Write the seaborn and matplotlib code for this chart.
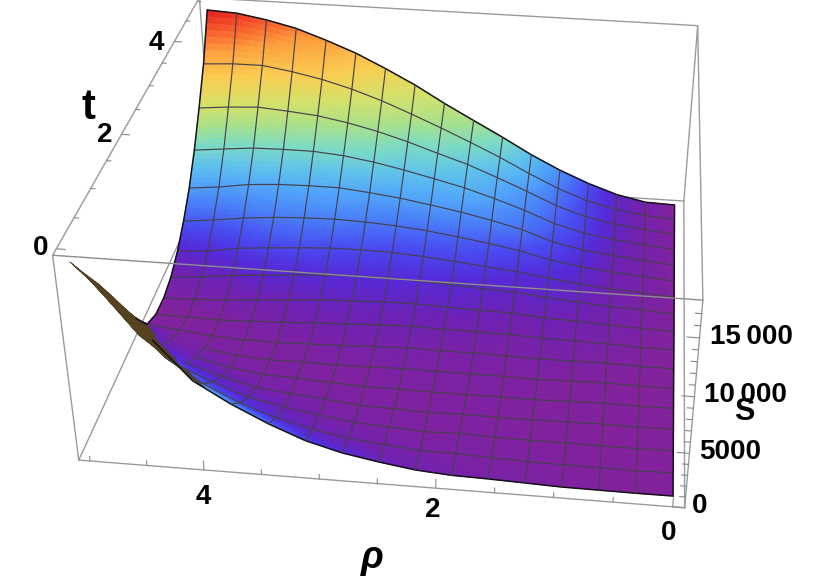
import numpy as np
import matplotlib
matplotlib.use("Agg")
import matplotlib.pyplot as plt
from mpl_toolkits.mplot3d import Axes3D  # noqa: F401
import seaborn as sns

# ---- data: rows t2 = 5 ... 0, columns rho = 5 ... 0 ----
rho_nodes = [5, 4.6875, 4.375, 4.0625, 3.75, 3.4375, 3.125, 2.8125, 2.5,
             2.1875, 1.875, 1.5625, 1.25, 0.9375, 0.625, 0.3125, 0]
t2_nodes = [5, 4.6875, 4.375, 4.0625, 3.75, 3.4375, 3.125, 2.8125, 2.5,
            2.1875, 1.875, 1.5625, 1.25, 0.9375, 0.625, 0.3125, 0]
S_values = [
    [17300,17150,16650,15970,14960,13830,12440,10940,9230,7640,6070,4410,2960,1730,720,100,0],
    [13160,13340,13350,12900,12300,11500,10500,9320,8080,6770,5400,3900,2520,1400,680,220,0],
    [10030,10310,10480,10260,9980,9450,8760,7890,6900,5950,4780,3550,2240,1280,680,320,20],
    [7150,7450,7740,7800,7790,7540,7080,6470,5770,5040,4130,3120,1940,1140,660,340,40],
    [4740,5050,5500,5710,5780,5770,5470,5110,4620,4090,3440,2700,1650,1020,650,340,70],
    [2900,3210,3620,3900,4060,4130,4040,3860,3570,3150,2700,2150,1430,930,610,360,110],
    [1430,1640,2140,2400,2610,2800,2830,2780,2590,2300,1980,1680,1240,860,570,400,160],
    [430,650,1040,1270,1500,1730,1830,1880,1800,1620,1420,1310,1010,750,530,420,220],
    [0,80,270,480,710,930,1060,1180,1210,1100,1020,960,720,610,460,340,260],
    [100,70,0,110,230,390,510,670,750,680,660,630,480,450,400,280,260],
    [900,570,200,60,40,110,180,340,440,380,400,350,270,310,350,250,260],
    [3300,1410,820,340,170,170,130,180,260,230,230,210,150,230,320,240,270],
    [6100,2780,1840,1080,620,510,330,170,180,130,130,140,130,220,300,240,280],
    [9000,4820,3170,2130,1320,970,680,320,240,120,200,160,170,220,270,230,290],
    [11800,7410,4920,3520,2340,1650,1150,680,500,300,400,280,240,240,240,230,300],
    [14400,10580,7440,5300,3780,2650,1820,1200,880,560,560,410,320,270,260,240,300],
    [17080,14260,10870,7500,5650,4100,2800,1920,1340,860,620,550,440,330,310,290,300],
]
# colour level of each node on the rainbow scale
colour_levels = [
    [1.0,.97,.92,.87,.83,.77,.72,.67,.62,.57,.5,.4,.3,.2,.11,.05,.01],
    [.78,.78,.76,.74,.72,.68,.64,.6,.55,.5,.44,.37,.27,.19,.11,.05,.01],
    [.64,.64,.64,.62,.6,.58,.55,.5,.47,.43,.38,.32,.25,.18,.11,.05,.01],
    [.47,.47,.48,.48,.48,.47,.45,.42,.4,.38,.34,.29,.23,.17,.1,.05,.01],
    [.33,.33,.35,.36,.36,.36,.35,.34,.33,.31,.29,.26,.2,.15,.09,.05,.01],
    [.22,.23,.25,.27,.28,.28,.27,.26,.25,.24,.22,.2,.17,.13,.08,.04,.01],
    [.12,.14,.17,.19,.2,.2,.2,.19,.19,.18,.17,.15,.14,.11,.07,.04,.01],
    [.06,.08,.1,.12,.13,.14,.14,.14,.14,.13,.12,.11,.11,.09,.06,.03,.01],
    [.02,.03,.05,.07,.08,.1,.1,.1,.1,.1,.09,.08,.08,.07,.05,.03,0],
    [0,0,.02,.03,.05,.06,.07,.07,.07,.06,.06,.05,.06,.05,.04,.02,0],
    [.03,.02,.02,.02,.02,.03,.04,.05,.05,.04,.04,.03,.04,.03,.02,.01,0],
    [.12,.05,.03,.02,.02,.02,.02,.02,.03,.03,.03,.02,.02,.01,.01,0,0],
    [.18,.1,.08,.05,.03,.02,.02,.02,.02,.02,.02,.02,.01,.01,.01,0,0],
    [.25,.16,.12,.09,.06,.04,.03,.02,.02,.02,.02,.01,.01,.01,0,0,0],
    [.3,.22,.2,.15,.11,.08,.05,.04,.03,.02,.02,.02,.01,.01,0,0,0],
    [.35,.3,.27,.23,.18,.12,.09,.07,.05,.04,.03,.02,.02,.01,.01,0,0],
    [.4,.42,.42,.42,.33,.25,.18,.14,.1,.07,.05,.04,.03,.02,.01,0,0],
]
rho_ticks = [0, .5, 1, 1.5, 2, 2.5, 3, 3.5, 4, 4.5, 5]
t2_ticks = [0, .5, 1, 1.5, 2, 2.5, 3, 3.5, 4, 4.5, 5]
S_ticks = list(range(0, 18000, 1000))
tick_labels = ["4", "2", "0", "4", "2", "0", "15\u2009000", "10\u2009000", "5000", "0"]
axis_labels = ["t", "\u03c1", "S"]

# ---- layout ----
W, H = 830, 580
rho_lim = (-0.1, 5.1)
t2_lim = (-0.1, 5.1)
S_lim = (0, 18100)
box_world = [(5.1, -.1, 18100), (-.1, -.1, 18100), (5.1, 5.1, 18100), (-.1, 5.1, 18100),
             (5.1, -.1, 0), (-.1, -.1, 0), (-.1, 5.1, 0), (5.1, 5.1, 0)]
box_pixels = [(54, 255), (703, 298), (197, 0), (699, 25),
              (78, 462), (684, 508), (683, 203), (214, 167)]
tick_label_px = [(156, 43), (105, 135), (41, 248), (203, 497), (433, 510), (669, 533),
                 (751, 337), (745, 395), (730, 452), (700, 506)]
axis_label_px = [(88, 108), (372, 558), (744, 412)]

sns.set_theme(style="white")
plt.rcParams["font.family"] = ["Liberation Sans", "DejaVu Sans"]

rainbow = sns.blend_palette(["#82209c", "#6c20b4", "#5528d7", "#4846f0", "#487df8", "#50a5fa", "#5fc3eb",
                             "#7ddcc3", "#aae187", "#d7e169", "#facd50", "#fda03c", "#f8602c", "#e82820"],
                            n_colors=256, as_cmap=True)
# the palette stops above are spaced evenly; place them where the picture has them
stops = [0, .08, .14, .2, .28, .35, .42, .5, .58, .66, .74, .84, .92, 1]
even = np.linspace(0, 1, len(stops))


def level_colour(c):
    return rainbow(np.interp(c, stops, even))


def fit_camera():
    rows = []
    for (x, y, z), (u, v) in zip(box_world, box_pixels):
        X = [x / 5, y / 5, z / 18100, 1]
        u, v = u / 800, v / 800
        rows.append(X + [0, 0, 0, 0] + [-u * c for c in X])
        rows.append([0, 0, 0, 0] + X + [-v * c for c in X])
    P = np.linalg.svd(np.array(rows))[2][-1].reshape(3, 4)
    P = np.diag([800, 800, 1.0]) @ P @ np.diag([1 / 5, 1 / 5, 1 / 18100, 1])
    if P[2] @ np.array([2.5, 2.5, 9000, 1]) < 0:
        P = -P
    return P


P = fit_camera()
fig = plt.figure(figsize=(W / 100, H / 100), dpi=100)
ax = fig.add_subplot(projection="3d")
ax.set_position([0, (1 - W / H) / 2, 1, W / H])
ax.set_axis_off()
ax.computed_zorder = False
ax.set_xlim(*rho_lim)
ax.set_ylim(*t2_lim)
ax.set_zlim(*S_lim)


def camera_proj():
    ax.apply_aspect()
    flip = np.array([[1, 0, 0], [0, -1, H], [0, 0, 1.0]])
    Q = ax.transData.inverted().get_matrix() @ flip @ P
    return np.array([Q[0], Q[1], [0, 0, 0, -1.0], Q[2]])


ax.get_proj = camera_proj

# ---- surface ----
rho_arr = np.array(rho_nodes)
t2_arr = np.array(t2_nodes)
S_arr = np.array(S_values, float)
C_arr = np.array(colour_levels, float)
n = 8  # each mesh cell is shaded in n x n facets


def refine(table):
    idx = np.arange(17)
    fine = np.arange(16 * n + 1) / n
    a = np.array([np.interp(fine, idx, r) for r in np.asarray(table)])
    return np.array([np.interp(fine, idx, c) for c in a.T]).T


rho_f = np.interp(np.arange(16 * n + 1) / n, np.arange(17), rho_arr)
t2_f = np.interp(np.arange(16 * n + 1) / n, np.arange(17), t2_arr)
XX, YY = np.meshgrid(rho_f, t2_f)
ZZ = refine(S_arr)
CC = refine(C_arr)
cols = level_colour(CC)

# facets seen from their underside (the fold at low t2, high rho) are dark
h = np.stack([XX, YY, ZZ, np.ones_like(XX)], -1) @ P.T
px, py = h[..., 0] / h[..., 2], h[..., 1] / h[..., 2]
area = ((px[1:, 1:] - px[:-1, :-1]) * (py[1:, :-1] - py[:-1, 1:])
        - (px[1:, :-1] - px[:-1, 1:]) * (py[1:, 1:] - py[:-1, :-1]))
sign = np.sign(np.median(area))
under = area * sign < 0
row_i, col_i = np.indices(under.shape)
under |= (row_i >= 11 * n) & (col_i < (row_i / n - 10.5) * 0.6 * n)
cols[:-1, :-1][under] = (0.33, 0.26, 0.13, 1)

ax.plot_surface(XX, YY, ZZ, rstride=1, cstride=1, facecolors=cols, shade=False,
                linewidth=0.5, antialiased=True, zorder=2)

# ---- mesh lines and outline ----
mesh = "#47414d"
for j, t in enumerate(t2_arr):
    edge = j in (0, 16)
    start = 2 if j > 10 else 0
    ax.plot(rho_arr[start:], np.full(17 - start, t), S_arr[j, start:], color="#151218" if edge else mesh,
            lw=1.1 if edge else 0.85, zorder=3)
for i, r in enumerate(rho_arr):
    edge = i in (0, 16)
    stop = 17 if i > 2 else 12 + i
    ax.plot(np.full(stop, r), t2_arr[:stop], S_arr[:stop, i], color="#151218" if edge else mesh,
            lw=1.1 if edge else 0.85, zorder=3)

# ---- box ----
edge_col = "#9a9a9a"
r0, r1 = rho_lim
t0, t1 = t2_lim
s0, s1 = S_lim
hidden = [((r1, t0, s0), (r1, t1, s0)), ((r1, t1, s0), (r0, t1, s0)),
          ((r1, t1, s0), (r1, t1, s1))]
shown = [((r1, t0, s1), (r1, t1, s1)), ((r1, t1, s1), (r0, t1, s1)), ((r0, t1, s1), (r0, t0, s1)),
         ((r0, t0, s1), (r0, t0, s0)), ((r0, t0, s0), (r1, t0, s0)), ((r1, t0, s0), (r1, t0, s1)),
         ((r0, t0, s0), (r0, t1, s0)), ((r0, t1, s0), (r0, t1, s1))]
for a, b in hidden + shown:
    ax.plot(*zip(a, b), color=edge_col, lw=1.0, zorder=1)
ax.plot(*zip((r1, t0, s1), (r0, t0, s1)), color="#8c8c8c", lw=1.0, zorder=4)

# ---- ticks ----
tick_col = "#8a8a8a"
for v in t2_ticks:
    L = 0.075 if v in (0, 2, 4) else 0.04
    ax.plot([r1, r1 - L], [v, v], [s1, s1], color=tick_col, lw=0.8, zorder=1)
for v in rho_ticks:
    L = 850 if v in (0, 2, 4) else 450
    ax.plot([v, v], [t0, t0], [s0, s0 + L], color=tick_col, lw=0.8, zorder=1)
for v in S_ticks:
    L = 0.1 if v % 5000 == 0 else 0.05
    ax.plot([r0, r0 + L], [t0, t0], [v, v], color=tick_col, lw=0.8, zorder=1)

# ---- text ----
for s, (x, y) in zip(tick_labels, tick_label_px):
    fig.text(x / W, 1 - y / H, s, fontsize=20, fontweight="bold", ha="center", va="center", color="black")
fig.text(axis_label_px[0][0] / W, 1 - axis_label_px[0][1] / H, axis_labels[0], fontsize=30,
         fontweight="bold", ha="center", va="center", color="black")
fig.text(axis_label_px[1][0] / W, 1 - axis_label_px[1][1] / H, axis_labels[1], fontsize=27,
         fontweight="bold", fontstyle="italic", ha="center", va="center", color="black")
fig.text(axis_label_px[2][0] / W, 1 - axis_label_px[2][1] / H, axis_labels[2], fontsize=22,
         fontweight="bold", ha="center", va="center", color="black")

fig.savefig("out.png", dpi=100, facecolor="white")
